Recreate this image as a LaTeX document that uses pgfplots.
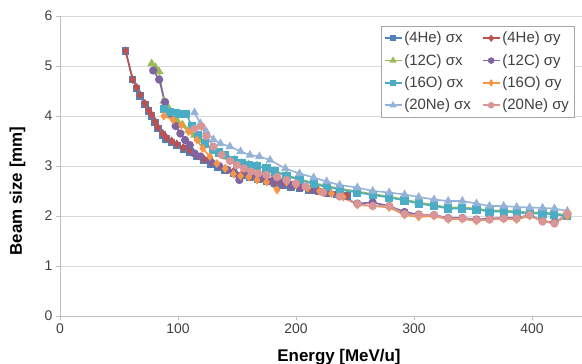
\documentclass[border=0pt]{standalone}
\usepackage{fontspec}
\setmainfont{Liberation Sans}
\usepackage{pgfplots}
\pgfplotsset{compat=1.18}
\definecolor{cHex}{HTML}{4F81BD}
\definecolor{cHey}{HTML}{C0504D}
\definecolor{cCx}{HTML}{9BBB59}
\definecolor{cCy}{HTML}{8064A2}
\definecolor{cOx}{HTML}{4BACC6}
\definecolor{cOy}{HTML}{F79646}
\definecolor{cNx}{HTML}{95B3D7}
\definecolor{cNy}{HTML}{D99694}
\definecolor{gridc}{HTML}{D9D9D9}
\definecolor{axc}{HTML}{BFBFBF}
\definecolor{txt}{HTML}{404040}
\begin{document}
\begin{tikzpicture}
\begin{axis}[
  at={(0,0)}, anchor=south west,
  scale only axis, width=522bp, height=300bp,
  xmin=0, xmax=442.4, ymin=0, ymax=6,
  xtick={0,100,200,300,400}, ytick={0,1,2,3,4,5,6},
  ymajorgrids, grid style={gridc, line width=0.8bp},
  axis x line*=bottom, axis y line*=left,
  axis line style={axc, line width=0.8bp},
  tick style={axc, line width=0.8bp},
  tick align=outside, major tick length=4bp,
  /pgf/number format/assume math mode=true,
  ticklabel style={font=\fontsize{14}{16}\selectfont, text=txt},
  legend columns=2,
  legend cell align=left,
  legend style={at={(0.985,0.967)}, anchor=north east, draw=gray!70, fill=white,
    font=\fontsize{15}{18}\selectfont, text=txt,
    /tikz/every even column/.append style={column sep=9bp},
    row sep=6bp, inner xsep=3bp, inner ysep=4bp,
    mark options={scale=0.75}},
  every axis plot/.append style={line width=1.6bp},
  clip=false,
]
% 4He sigma x
\addplot[color=cHex, mark=square*, mark size=3bp] coordinates {
(55.6,5.30)(61.6,4.73)(65,4.55)(68,4.40)(72,4.23)(75,4.10)(77.7,4.00)(80.5,3.87)(83,3.75)(87,3.62)(90,3.54)(94.6,3.47)(99,3.41)(104.5,3.34)(110,3.28)(116,3.19)(122,3.11)(128,3.04)(134,2.98)(140,2.92)(147,2.86)(154,2.81)(161,2.77)(168,2.73)(175,2.69)(182,2.65)(189,2.61)(196,2.58)(203,2.55)(211,2.52)(219,2.49)(227,2.46)(235,2.43)(243,2.40)};
% 4He sigma y
\addplot[color=cHey, mark=diamond*, mark size=3.2bp] coordinates {
(55.6,5.30)(61.6,4.73)(65,4.57)(68,4.42)(72,4.25)(75,4.12)(77.7,4.02)(80.5,3.89)(83,3.77)(87,3.65)(90,3.57)(94.6,3.50)(99,3.44)(104.5,3.37)(110,3.31)(116,3.22)(122,3.14)(128,3.07)(134,3.01)(140,2.95)(147,2.89)(154,2.84)(161,2.79)(168,2.75)(175,2.71)(182,2.67)(189,2.63)(196,2.60)(203,2.57)(211,2.54)(219,2.51)(227,2.47)(235,2.44)(243,2.41)};
% 12C sigma x
\addplot[color=cCx, mark=triangle*, mark size=3.5bp] coordinates {
(77.7,5.05)(81,4.97)(84,4.89)(88,4.30)(91,4.20)(94,4.02)(99,3.92)(104,3.82)(109,3.72)(114,3.62)(119,3.52)(124,3.42)(130,3.33)(136,3.25)(142,3.18)(148,3.12)(154,3.06)(160,3.03)(167,3.01)(175,2.96)(182,2.90)(192,2.82)(203,2.74)(215,2.66)(226,2.60)(237,2.55)(252,2.49)(265,2.44)(279,2.39)(292,2.33)(304,2.27)(317,2.22)(329,2.17)(341,2.17)(353,2.15)(364,2.11)(376,2.11)(387,2.09)(398,2.07)(409,2.07)(419,2.05)(430,2.02)};
% 12C sigma y
\addplot[color=cCy, mark=*, mark size=3.3bp] coordinates {
(79,4.91)(84,4.73)(89,4.28)(94,4.05)(98,3.80)(102,3.65)(106,3.52)(110,3.42)(114,3.25)(119,3.19)(127,3.10)(135,3.00)(142,2.92)(148,2.85)(152,2.72)(158,2.85)(165,2.80)(172,2.75)(180,2.70)(188,2.66)(196,2.62)(205,2.58)(215,2.52)(226,2.46)(237,2.40)(252,2.25)(265,2.27)(279,2.20)(292,2.08)(304,2.03)(317,2.02)(329,1.96)(341,1.96)(353,1.93)(364,1.95)(376,1.96)(387,1.96)(398,2.02)(409,1.90)(419,1.87)(430,2.03)};
% 16O sigma x
\addplot[color=cOx, mark=square*, mark size=3.3bp] coordinates {
(88,4.14)(93,4.08)(98,4.05)(103,4.04)(107,4.04)(112,3.79)(117,3.62)(123,3.45)(130,3.32)(135,3.27)(140,3.22)(147,3.12)(154,3.05)(160,3.02)(167,3.00)(175,2.95)(182,2.89)(192,2.80)(203,2.72)(215,2.64)(226,2.58)(237,2.53)(252,2.47)(265,2.42)(279,2.37)(292,2.31)(304,2.25)(317,2.20)(329,2.15)(341,2.15)(353,2.13)(364,2.09)(376,2.09)(387,2.07)(398,2.05)(409,2.05)(419,2.03)(430,2.00)};
% 16O sigma y
\addplot[color=cOy, mark=diamond*, mark size=3.2bp] coordinates {
(88,4.00)(96,3.92)(103,3.82)(109,3.69)(116,3.52)(121,3.35)(127,3.19)(133,3.05)(140,2.95)(147,2.84)(153,2.80)(160,2.78)(167,2.72)(175,2.68)(184,2.52)(192,2.68)(200,2.62)(210,2.56)(220,2.50)(230,2.45)(240,2.38)(252,2.22)(265,2.20)(279,2.17)(292,2.02)(304,1.98)(317,2.00)(329,1.93)(341,1.94)(353,1.90)(364,1.93)(376,1.94)(387,1.93)(398,2.00)(409,1.90)(419,1.86)(430,2.00)};
% 20Ne sigma x
\addplot[color=cNx, mark=triangle*, mark size=3.5bp] coordinates {
(114,4.07)(119,3.85)(124,3.69)(130,3.53)(136,3.45)(144,3.39)(153,3.29)(161,3.22)(169,3.19)(178,3.12)(191,2.95)(203,2.85)(215,2.77)(226,2.69)(237,2.62)(252,2.57)(265,2.50)(279,2.47)(292,2.43)(304,2.38)(317,2.33)(329,2.30)(341,2.30)(353,2.25)(364,2.20)(376,2.20)(387,2.18)(398,2.17)(409,2.16)(419,2.15)(430,2.10)};
% 20Ne sigma y
\addplot[color=cNy, mark=*, mark size=3.3bp] coordinates {
(114,3.74)(120,3.79)(124,3.60)(130,3.39)(137,3.22)(144,3.10)(150,3.02)(156,2.95)(162,2.89)(168,2.85)(175,2.82)(184,2.78)(192,2.72)(200,2.65)(208,2.59)(223,2.47)(237,2.39)(252,2.24)(265,2.20)(279,2.20)(292,2.04)(304,2.02)(317,2.02)(329,1.95)(341,1.95)(353,1.92)(364,1.93)(376,1.95)(387,1.95)(398,2.02)(409,1.89)(419,1.85)(430,2.05)};
\legend{(4He) σx,(4He) σy,(12C) σx,(12C) σy,(16O) σx,(16O) σy,(20Ne) σx,(20Ne) σy}
\node[font=\bfseries\fontsize{17}{20}\selectfont, anchor=base] at (rel axis cs:0.5345,-0.1533) {Energy [MeV/u]};
\node[font=\bfseries\fontsize{17}{20}\selectfont, rotate=90, anchor=center] at (rel axis cs:-0.0814,0.4167) {Beam size [mm]};
\end{axis}
\pgfresetboundingbox
\path[use as bounding box] (-60bp,-48bp) rectangle (522bp,316bp);
\end{tikzpicture}
\end{document}
